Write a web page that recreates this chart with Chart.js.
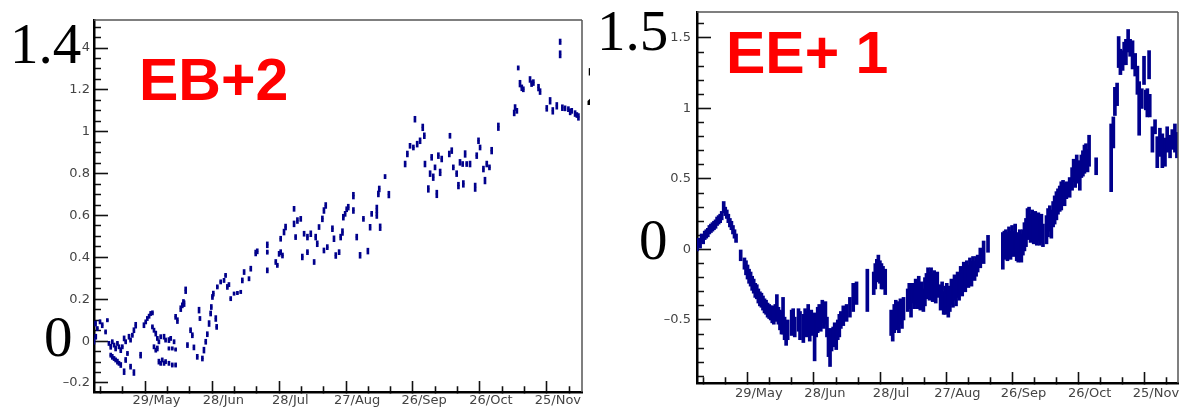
<!DOCTYPE html>
<html>
<head>
<meta charset="utf-8">
<script src="https://cdn.jsdelivr.net/npm/chart.js@4.4.1/dist/chart.umd.min.js"></script>
<style>
  html, body { margin: 0; padding: 0; background: #fff; overflow: hidden; }
  #painel { position: relative; width: 1182px; height: 408px; }
  canvas { position: absolute; top: 0; background: #fff; }
  #graficoEB { left: 0; }
  #graficoEE { left: 590px; }
</style>
</head>
<body>
<div id="painel">
  <canvas id="graficoEB" width="590" height="408"></canvas>
  <canvas id="graficoEE" width="592" height="408"></canvas>
</div>
<script>
// eixo x em dias contados a partir de 1/May
const diasMarcados = [28, 58, 88, 118, 148, 178, 208];
const rotulosDatas = ['29/May', '28/Jun', '28/Jul', '27/Aug', '26/Sep', '26/Oct', '25/Nov'];

const ebTicksY = [-0.2, 0, 0.2, 0.4, 0.6, 0.8, 1, 1.2, 1.4];
const eeTicksY = [-0.5, 0, 0.5, 1, 1.5];

const ebDias = [
  0.0, 0.7, 0.8, 1.5, 2.7, 3.7, 5.2, 6.0, 6.7, 7.5,
  7.5, 8.2, 8.2, 9.0, 9.0, 9.7, 9.7, 10.5, 10.5, 11.2,
  11.2, 12.0, 12.0, 12.7, 13.5, 13.5, 14.2, 14.2, 15.0, 15.7,
  16.4, 16.4, 17.2, 17.9, 17.9, 18.7, 20.9, 22.4, 23.2, 23.9,
  24.7, 25.4, 26.2, 26.2, 26.9, 26.9, 27.7, 27.7, 28.4, 28.4,
  29.1, 29.1, 29.9, 29.9, 30.6, 31.4, 31.4, 32.1, 32.1, 33.6,
  33.6, 33.6, 34.4, 35.1, 35.1, 35.9, 36.6, 36.6, 36.6, 37.4,
  38.9, 39.6, 40.1, 40.4, 41.1, 41.9, 43.3, 44.1, 44.8, 46.3,
  47.1, 47.5, 48.6, 49.3, 50.1, 50.8, 51.6, 52.3, 52.6, 53.1,
  53.5, 54.6, 55.0, 55.3, 56.8, 58.3, 59.0, 59.8, 60.5, 61.3,
  62.8, 64.3, 65.8, 66.5, 67.3, 69.5, 70.3, 72.5, 73.2, 77.7,
  77.7, 77.7, 81.5, 82.2, 83.0, 83.7, 83.7, 84.5, 85.2, 85.9,
  89.7, 89.7, 90.4, 91.2, 92.7, 93.4, 94.2, 95.7, 95.7, 97.2,
  98.7, 99.4, 100.1, 100.9, 102.4, 103.1, 103.9, 103.1, 104.6, 106.9,
  107.6, 108.4, 109.9, 110.6, 111.4, 111.8, 112.6, 113.3, 114.0, 116.3,
  116.3, 117.8, 119.3, 120.8, 122.8, 123.8, 124.5, 126.8, 126.8, 127.5,
  127.9, 128.3, 130.5, 132.2, 139.5, 140.5, 141.7, 143.2, 143.9, 144.9,
  146.2, 147.4, 148.1, 148.4, 149.9, 150.7, 151.4, 152.1, 152.9, 153.7,
  154.4, 155.2, 155.9, 159.3, 159.6, 160.4, 161.1, 162.6, 163.4, 164.1,
  165.3, 165.6, 166.4, 167.1, 168.6, 170.9, 171.6, 172.4, 173.1, 174.6,
  175.3, 176.1, 177.3, 178.3, 181.3, 188.4, 188.8, 189.6, 190.2, 191.0,
  191.8, 192.5, 195.5, 196.2, 197.0, 199.3, 200.0, 203.0, 204.5, 205.7,
  207.5, 209.0, 209.0, 210.0, 211.2, 212.7, 213.5, 214.2, 215.7, 216.5,
  217.2
];
const ebValores = [
  0.000, 0.084, 0.021, 0.060, 0.092, 0.076, 0.044, 0.100, -0.011, -0.027,
  -0.067, -0.003, -0.075, -0.019, -0.083, -0.035, -0.090, -0.011, -0.098, -0.027,
  -0.106, -0.043, -0.114, -0.027, 0.013, -0.146, -0.003, -0.090, -0.059, 0.021,
  0.005, -0.122, 0.028, 0.052, -0.150, 0.076, -0.067, 0.076, 0.092, 0.108,
  0.119, 0.132, 0.135, 0.068, 0.052, -0.027, 0.036, -0.043, 0.013, -0.035,
  -0.003, -0.098, 0.021, -0.106, -0.090, 0.021, -0.106, 0.005, -0.098, 0.005,
  -0.035, -0.106, 0.013, -0.035, -0.114, -0.003, -0.040, -0.114, 0.116, 0.098,
  0.155, 0.171, 0.187, 0.179, 0.243, -0.019, 0.052, 0.028, -0.030, -0.075,
  0.148, 0.108, -0.083, -0.043, -0.003, 0.033, 0.084, 0.132, 0.163, 0.211,
  0.227, 0.108, 0.068, 0.259, 0.283, 0.290, 0.314, 0.259, 0.270, 0.203,
  0.227, 0.230, 0.235, 0.290, 0.330, 0.298, 0.346, 0.421, 0.429, 0.460,
  0.425, 0.338, 0.378, 0.362, 0.417, 0.425, 0.489, 0.409, 0.521, 0.545,
  0.632, 0.560, 0.497, 0.576, 0.584, 0.402, 0.513, 0.497, 0.425, 0.513,
  0.378, 0.497, 0.465, 0.545, 0.584, 0.624, 0.648, 0.433, 0.449, 0.537,
  0.489, 0.409, 0.425, 0.497, 0.521, 0.592, 0.608, 0.630, 0.640, 0.695,
  0.624, 0.497, 0.410, 0.584, 0.430, 0.544, 0.608, 0.632, 0.600, 0.703,
  0.727, 0.544, 0.786, 0.700, 0.846, 0.894, 0.933, 0.925, 1.060, 0.941,
  0.957, 1.021, 0.981, 0.846, 0.727, 0.800, 0.878, 0.783, 0.830, 0.703,
  0.886, 0.806, 0.870, 0.894, 0.981, 0.910, 0.830, 0.800, 0.743, 0.854,
  0.846, 0.751, 0.894, 0.846, 0.846, 0.735, 0.886, 0.957, 0.925, 0.822,
  0.767, 0.846, 0.830, 0.910, 1.024, 1.090, 1.116, 1.100, 1.305, 1.230,
  1.210, 1.203, 1.250, 1.230, 1.235, 1.211, 1.192, 1.112, 1.148, 1.100,
  1.124, 1.430, 1.370, 1.115, 1.112, 1.108, 1.095, 1.100, 1.087, 1.080,
  1.071
];
const ebErros = [
  .015, .012, .012, .010, .010, .012, .010, .008, .010, .012,
  .010, .010, .012, .010, .010, .012, .010, .010, .012, .010,
  .010, .012, .012, .010, .012, .014, .010, .012, .010, .012,
  .010, .012, .010, .012, .014, .014, .014, .012, .010, .010,
  .010, .010, .010, .010, .010, .010, .012, .010, .010, .012,
  .010, .012, .010, .010, .010, .012, .010, .010, .010, .012,
  .008, .010, .010, .008, .010, .010, .008, .010, .012, .014,
  .014, .012, .012, .014, .016, .012, .012, .012, .012, .012,
  .014, .010, .012, .014, .012, .012, .014, .012, .012, .012,
  .012, .014, .012, .010, .010, .010, .010, .012, .010, .010,
  .008, .008, .008, .012, .012, .010, .012, .014, .012, .014,
  .010, .012, .012, .010, .012, .012, .012, .012, .014, .014,
  .012, .014, .012, .014, .012, .014, .012, .014, .012, .014,
  .012, .014, .014, .012, .014, .014, .014, .012, .012, .014,
  .014, .014, .012, .014, .016, .014, .012, .012, .014, .016,
  .014, .014, .014, .012, .014, .014, .012, .018, .014, .014,
  .014, .016, .010, .016, .014, .014, .012, .012, .014, .014,
  .014, .016, .014, .014, .016, .014, .014, .016, .012, .018,
  .014, .016, .014, .014, .012, .014, .012, .014, .016, .014,
  .012, .016, .016, .012, .014, .020, .014, .014, .012, .014,
  .016, .014, .012, .016, .018, .014, .014, .012, .010, .016,
  .014, .012, .014, .014, .014, .016, .014, .014, .016, .016,
  .016, .013, .017, .014, .012, .012, .014, .012, .014, .012,
  .016
];

const eeDias = [
  0.0, 0.7, 1.4, 2.1, 2.8, 3.5, 4.2, 4.9, 5.6, 6.3,
  7.0, 7.7, 8.4, 9.1, 9.8, 10.5, 11.2, 12.1, 12.8, 13.5,
  14.2, 14.9, 15.6, 16.3, 17.0, 17.7, 19.8, 21.5, 22.2, 22.9,
  23.6, 24.3, 25.0, 25.7, 26.4, 27.1, 27.8, 28.5, 29.2, 29.9,
  30.6, 31.3, 32.0, 32.7, 33.4, 34.1, 34.8, 35.5, 36.2, 36.9,
  37.6, 38.3, 39.0, 39.7, 40.4, 41.1, 42.9, 43.6, 44.3, 46.0,
  46.7, 48.2, 49.0, 49.7, 50.4, 51.1, 51.8, 53.3, 54.0, 54.7,
  55.4, 56.1, 56.8, 57.5, 58.2, 58.9, 59.6, 60.3, 61.0, 61.7,
  62.4, 63.1, 63.8, 64.5, 65.2, 66.3, 67.8, 69.3, 70.8, 72.3,
  77.2, 80.1, 80.8, 81.5, 82.2, 82.9, 83.6, 84.3, 85.3, 88.0,
  88.7, 89.4, 90.1, 90.8, 91.5, 92.2, 92.9, 93.6, 95.5, 96.2,
  97.0, 97.7, 98.4, 99.1, 99.8, 100.5, 101.2, 101.9, 102.6, 103.3,
  104.0, 104.7, 105.4, 106.1, 106.8, 107.5, 108.2, 108.9, 110.4, 111.1,
  111.8, 112.5, 113.2, 113.9, 114.6, 115.3, 116.0, 116.7, 117.4, 118.1,
  118.8, 119.5, 120.2, 120.9, 121.6, 122.3, 123.0, 123.7, 124.4, 125.1,
  125.8, 126.5, 127.2, 128.4, 129.9, 131.9, 138.6, 139.3, 140.0, 140.7,
  141.4, 142.1, 142.8, 143.5, 144.2, 144.9, 145.6, 146.3, 147.0, 147.7,
  148.4, 149.1, 149.8, 150.5, 151.2, 151.9, 152.6, 153.3, 154.0, 154.7,
  155.4, 156.1, 156.8, 158.4, 159.1, 159.9, 160.6, 161.4, 162.1, 162.9,
  163.6, 164.4, 165.1, 165.9, 166.6, 167.4, 168.9, 170.0, 170.7, 171.4,
  172.1, 172.8, 173.5, 174.2, 174.9, 175.6, 176.3, 177.0, 177.7, 180.9,
  187.7, 188.7, 189.4, 190.4, 191.1, 191.9, 192.9, 193.6, 194.4, 195.4,
  196.3, 197.4, 198.6, 199.6, 200.4, 201.6, 202.6, 203.4, 204.1, 204.9,
  205.2, 206.4, 207.6, 208.6, 209.8, 210.9, 212.1, 213.1, 214.4, 215.4,
  216.6, 217.5
];
const eeValores = [
  0.02, 0.05, 0.04, 0.08, 0.07, 0.10, 0.11, 0.12, 0.14, 0.15,
  0.16, 0.17, 0.18, 0.20, 0.21, 0.22, 0.24, 0.30, 0.27, 0.25,
  0.22, 0.19, 0.17, 0.14, 0.11, 0.08, -0.04, -0.10, -0.13, -0.16,
  -0.19, -0.21, -0.24, -0.26, -0.29, -0.30, -0.33, -0.35, -0.36, -0.38,
  -0.40, -0.41, -0.43, -0.44, -0.45, -0.46, -0.47, -0.45, -0.41, -0.47,
  -0.50, -0.52, -0.47, -0.56, -0.60, -0.57, -0.52, -0.50, -0.55, -0.50,
  -0.54, -0.56, -0.50, -0.53, -0.48, -0.55, -0.52, -0.62, -0.54, -0.50,
  -0.47, -0.51, -0.44, -0.47, -0.45, -0.55, -0.66, -0.72, -0.64, -0.62,
  -0.60, -0.64, -0.57, -0.54, -0.50, -0.47, -0.45, -0.41, -0.34, -0.31,
  -0.29, -0.24, -0.19, -0.15, -0.13, -0.16, -0.19, -0.20, -0.23, -0.52,
  -0.56, -0.49, -0.45, -0.47, -0.50, -0.44, -0.46, -0.42, -0.36, -0.33,
  -0.38, -0.31, -0.34, -0.30, -0.33, -0.28, -0.35, -0.32, -0.36, -0.30,
  -0.26, -0.23, -0.26, -0.22, -0.27, -0.24, -0.28, -0.25, -0.34, -0.32,
  -0.38, -0.36, -0.33, -0.38, -0.35, -0.30, -0.33, -0.27, -0.30, -0.25,
  -0.27, -0.22, -0.24, -0.19, -0.21, -0.17, -0.19, -0.15, -0.17, -0.13,
  -0.15, -0.12, -0.10, -0.06, -0.02, 0.04, -0.01, 0.03, 0.05, 0.02,
  0.06, 0.03, 0.07, 0.04, 0.08, 0.02, 0.00, 0.04, 0.01, 0.05,
  0.09, 0.12, 0.18, 0.20, 0.15, 0.18, 0.14, 0.17, 0.13, 0.16,
  0.12, 0.15, 0.10, 0.14, 0.19, 0.22, 0.18, 0.25, 0.28, 0.31,
  0.34, 0.36, 0.38, 0.41, 0.39, 0.42, 0.44, 0.50, 0.56, 0.53,
  0.58, 0.55, 0.52, 0.59, 0.61, 0.64, 0.66, 0.63, 0.70, 0.59,
  0.65, 0.83, 1.05, 1.10, 1.40, 1.33, 1.34, 1.39, 1.40, 1.48,
  1.43, 1.38, 1.31, 1.20, 1.00, 1.07, 1.27, 1.06, 1.04, 1.31,
  1.02, 0.78, 0.87, 0.69, 0.76, 0.70, 0.69, 0.78, 0.73, 0.78,
  0.79, 0.74
];
const eeErros = [
  .03, .03, .03, .03, .03, .03, .03, .03, .03, .03,
  .03, .03, .03, .03, .03, .03, .03, .04, .03, .03,
  .03, .03, .03, .03, .03, .03, .04, .04, .05, .05,
  .05, .05, .05, .05, .05, .05, .05, .05, .05, .05,
  .05, .05, .05, .05, .05, .06, .06, .06, .09, .06,
  .07, .08, .13, .08, .08, .07, .09, .08, .07, .08,
  .10, .10, .08, .09, .09, .10, .09, .17, .08, .09,
  .08, .07, .08, .09, .08, .07, .10, .11, .08, .07,
  .08, .07, .07, .08, .06, .07, .06, .07, .10, .08,
  .15, .08, .09, .08, .09, .08, .09, .08, .09, .09,
  .09, .10, .09, .10, .09, .09, .10, .08, .08, .09,
  .10, .07, .08, .09, .09, .09, .08, .09, .08, .10,
  .09, .10, .10, .09, .10, .09, .10, .09, .09, .09,
  .08, .10, .09, .10, .09, .09, .08, .09, .10, .09,
  .09, .10, .09, .10, .09, .09, .08, .09, .09, .08,
  .07, .07, .06, .07, .08, .06, .13, .10, .09, .10,
  .10, .10, .10, .09, .10, .10, .09, .10, .10, .09,
  .10, .10, .11, .10, .10, .10, .10, .10, .10, .10,
  .09, .10, .08, .10, .10, .09, .10, .09, .10, .10,
  .09, .09, .10, .08, .08, .06, .07, .08, .08, .09,
  .09, .08, .10, .08, .09, .10, .09, .08, .11, .06,
  .24, .11, .10, .08, .11, .09, .07, .08, .09, .08,
  .06, .10, .08, .10, .19, .07, .10, .07, .10, .10,
  .08, .09, .05, .11, .10, .12, .10, .09, .08, .07,
  .10, .09
];

const fonteEixo = { family: 'DejaVu Sans', size: 13 };

// riscos maiores = os que têm rótulo; os outros são riscos menores
const riscoMaiorY = 14, riscoMenorY = 7;
const riscoMaiorX = 11, riscoMenorX = 6;

function temRotulo(lista, v) {
  return lista.some(r => Math.abs(r - v) < 1e-6);
}

function formatarY(v) {
  const s = String(Math.round(v * 10) / 10);
  return s.replace('-', '\u2013');
}

function valoresRiscosY(cfg) {
  const lista = [];
  const primeiro = Math.ceil(cfg.yMin / cfg.passoY - 1e-6);
  const ultimo = Math.floor(cfg.yMax / cfg.passoY + 1e-6);
  for (let i = primeiro; i <= ultimo; i++) lista.push(Math.round(i * cfg.passoY * 1000) / 1000);
  return lista;
}

function valoresRiscosX(cfg) {
  const lista = [];
  for (let d = 8; d <= cfg.xMax; d += 10) lista.push(d);
  return lista;
}

// quadro fino em cima e à direita, e os textos grandes por cima de tudo
function molduraRoot(cfg) {
  return {
    id: 'molduraRoot',
    afterDraw(chart) {
      const ctx = chart.ctx;
      const a = chart.chartArea;
      ctx.save();
      ctx.fillStyle = '#555';
      ctx.fillRect(a.left, a.top - 0.75, a.right - a.left, 1.5);
      ctx.fillRect(a.right - 0.75, a.top, 1.5, a.bottom - a.top);
      ctx.textAlign = 'left';
      ctx.textBaseline = 'alphabetic';
      cfg.textos.forEach(t => {
        if (t.fundo) {
          ctx.fillStyle = '#fff';
          ctx.fillRect(t.fundo[0], t.fundo[1], t.fundo[2], t.fundo[3]);
        }
        ctx.font = t.fonte;
        ctx.fillStyle = t.cor;
        ctx.fillText(t.texto, t.x, t.y);
      });
      ctx.restore();
    }
  };
}

function criarPainel(id, dias, valores, erros, cfg) {
  const barras = dias.map((d, i) => ({ x: d, y: [valores[i] - erros[i], valores[i] + erros[i]] }));
  const pontos = dias.map((d, i) => ({ x: d, y: valores[i] }));
  const riscosY = valoresRiscosY(cfg);
  const riscosX = valoresRiscosX(cfg);

  return new Chart(document.getElementById(id), {
    type: 'bar',
    data: {
      datasets: [{
        type: 'bar',
        data: barras,
        backgroundColor: '#00008c',
        barThickness: cfg.larguraBarra,
        grouped: false,
        borderWidth: 0
      }, {
        type: 'scatter',
        data: pontos,
        pointRadius: cfg.raioPonto,
        pointBackgroundColor: '#000',
        pointBorderWidth: 0
      }]
    },
    options: {
      responsive: false,
      animation: false,
      events: [],
      layout: { padding: cfg.margens },
      plugins: {
        legend: { display: false },
        tooltip: { enabled: false }
      },
      scales: {
        x: {
          type: 'linear',
          min: 0,
          max: cfg.xMax,
          offset: false,
          // riscos negativos = para dentro do quadro; os menores ficam só com o pedaço junto ao eixo
          grid: {
            display: true,
            drawOnChartArea: false,
            drawTicks: true,
            tickLength: -riscoMaiorX,
            tickWidth: 1.6,
            tickColor: '#111',
            tickBorderDash: c => (c.tick && temRotulo(diasMarcados, c.tick.value)) ? [] : [riscoMenorX + 1.25, 40]
          },
          border: { color: '#000', width: 2.5 },
          afterBuildTicks: s => { s.ticks = riscosX.map(v => ({ value: v })); },
          afterFit: s => { s.height = cfg.alturaX; s.paddingLeft = 0; s.paddingRight = 0; },
          ticks: {
            autoSkip: false,
            maxRotation: 0,
            padding: cfg.padX + riscoMaiorX,
            color: '#444',
            font: fonteEixo,
            callback: v => {
              const k = diasMarcados.indexOf(v);
              return k >= 0 ? rotulosDatas[k] : '';
            }
          }
        },
        y: {
          min: cfg.yMin,
          max: cfg.yMax,
          grid: {
            display: true,
            drawOnChartArea: false,
            drawTicks: true,
            tickLength: -riscoMaiorY,
            tickWidth: 1.6,
            tickColor: '#111',
            tickBorderDash: c => (c.tick && temRotulo(cfg.ticksY, c.tick.value)) ? [] : [0, riscoMaiorY - riscoMenorY, 40, 0]
          },
          border: { color: '#000', width: 2.5 },
          afterBuildTicks: s => { s.ticks = riscosY.map(v => ({ value: v })); },
          afterFit: s => { s.width = cfg.larguraY; s.paddingTop = 0; s.paddingBottom = 0; },
          ticks: {
            autoSkip: false,
            padding: cfg.padY + riscoMaiorY,
            color: '#444',
            font: fonteEixo,
            callback: v => temRotulo(cfg.ticksY, v) ? formatarY(v) : ''
          }
        }
      }
    },
    plugins: [molduraRoot(cfg)]
  });
}

const serifeGrande = '57px "Liberation Serif"';
const tituloVermelho = 'bold 59px "Liberation Sans"';

criarPainel('graficoEB', ebDias, ebValores, ebErros, {
  xMax: 218.8, yMin: -0.243, yMax: 1.534,
  ticksY: ebTicksY, passoY: 0.05,
  margens: { left: 0, top: 20, right: 8, bottom: 0 },
  larguraY: 94, alturaX: 16, padX: 1, padY: 4,
  larguraBarra: 2, raioPonto: 1.1,
  textos: [
    { texto: '1.4', x: 10, y: 63, fonte: serifeGrande, cor: '#000', fundo: [8, 22, 74, 46] },
    { texto: '0', x: 44, y: 356, fonte: serifeGrande, cor: '#000' },
    { texto: '2', x: 585, y: 105, fonte: serifeGrande, cor: '#000' },
    { texto: 'EB+2', x: 139, y: 100, fonte: tituloVermelho, cor: '#ff0000' }
  ]
});

criarPainel('graficoEE', eeDias, eeValores, eeErros, {
  xMax: 218, yMin: -0.947, yMax: 1.684,
  ticksY: eeTicksY, passoY: 0.1,
  margens: { left: 0, top: 12, right: 0, bottom: 0 },
  larguraY: 107, alturaX: 25, padX: 3, padY: 6,
  larguraBarra: 3, raioPonto: 1,
  textos: [
    { texto: '1.5', x: 7, y: 50, fonte: serifeGrande, cor: '#000' },
    { texto: '0', x: 49, y: 259, fonte: serifeGrande, cor: '#000' },
    { texto: 'EE+ 1', x: 136, y: 73, fonte: tituloVermelho, cor: '#ff0000' }
  ]
});
</script>
</body>
</html>
